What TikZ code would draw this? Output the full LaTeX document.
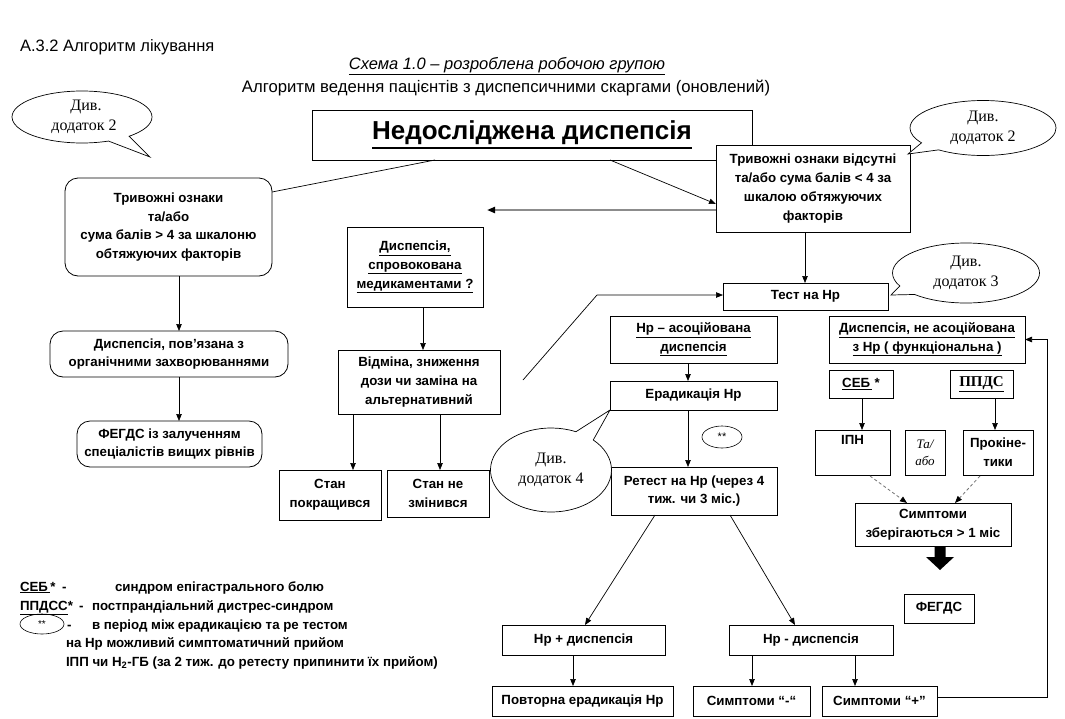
\documentclass[tikz,border=0pt]{standalone}
\usepackage{fontspec}
\setmainfont{Liberation Sans}
\newfontfamily\tnr{Liberation Serif}
\usetikzlibrary{arrows.meta,shapes.geometric,shapes.callouts,calc}
\newcommand{\ulx}[1]{\vtop{\hbox{#1}\kern1.3pt\hrule height 0.9pt}}
\newcommand{\ulxx}[1]{\vtop{\hbox{#1}\kern2.2pt\hrule height 1.9pt}}
\newcommand{\mkbox}[7]{\node[#6, minimum width={#4-#2}, minimum height={#5-#3}] (#1) at ({(#2+#4)/2},{(#3+#5)/2}) {#7};}
\begin{document}
\begin{tikzpicture}[x=1pt,y=-1pt,
  every node/.style={inner sep=0pt, outer sep=0pt},
  bx/.style={draw, line width=0.8pt, fill=white, align=center, font=\bfseries\fontsize{13.3}{18.8}\selectfont},
  rbx/.style={bx, rounded corners=13pt},
  cl/.style={ellipse callout, draw, line width=0.7pt, fill=white, align=center, callout pointer arc=20, font=\tnr\fontsize{16}{20.5}\selectfont},
  arr/.style={-{Triangle[length=7pt,width=5.5pt]}, line width=0.7pt},
  ln/.style={line width=0.7pt},
  gryarr/.style={-{Triangle[length=8pt,width=6pt,color=black]}, line width=2pt, color=black!45},
  dsh/.style={-{Triangle[length=7pt,width=5.5pt,color=black]}, line width=0.8pt, dashed, dash pattern=on 3pt off 2.5pt, color=black!55},
  lg/.style={anchor=base west, font=\bfseries\fontsize{13.3}{15}\selectfont},
]
\fill[white] (0,0) rectangle (1065,718);
\useasboundingbox (0,0) rectangle (1065,718);

% header texts
\node[anchor=base west, font=\fontsize{16.5}{18}\selectfont] (hdr) at (20,51) {А.3.2 Алгоритм лікування};
\node[anchor=base, font=\itshape\fontsize{16.5}{18}\selectfont] (sch) at (507,69) {\ulx{Схема 1.0 – розроблена робочою групою}};
\node[anchor=base, font=\fontsize{16.7}{18}\selectfont] (alg) at (506,92) {Алгоритм ведення пацієнтів з диспепсичними скаргами (оновлений)};

% guides
\coordinate (x179) at (179,0);
\coordinate (x423) at (423,0);
\coordinate (x353) at (353,0);
\coordinate (x440) at (440,0);
\coordinate (x805) at (805,0);
\coordinate (x688) at (688,0);
\coordinate (x573) at (573,0);
\coordinate (x752) at (752,0);
\coordinate (x855) at (855,0);
\coordinate (x862) at (862,0);
\coordinate (x995) at (995,0);
\coordinate (x1047) at (1047,0);

% boxes
\mkbox{main}{312}{110}{752}{160}{bx}{\fontsize{26}{30}\selectfont\ulxx{Недосліджена диспепсія}}
\mkbox{alarmR}{716}{145}{910}{232}{bx}{Тривожні ознаки відсутні\\та/або сума балів < 4 за\\шкалою обтяжуючих\\факторів}
\mkbox{alarmL}{65}{178}{272}{276}{rbx}{Тривожні ознаки\\та/або\\сума балів > 4 за шкалоню\\обтяжуючих факторів}
\mkbox{org}{50}{331}{288}{377}{rbx}{Диспепсія, пов’язана з\\органічними захворюваннями}
\mkbox{fegA}{77}{421}{262}{467}{rbx}{ФЕГДС із залученням\\спеціалістів вищих рівнів}
\mkbox{drug}{347}{227}{483}{307}{bx}{\ulx{Диспепсія,}\\\ulx{спровокована}\\\ulx{медикаментами ?}}
\mkbox{change}{338}{350}{500}{414}{bx}{Відміна, зниження\\дози чи заміна на\\альтернативний}
\mkbox{better}{279}{470}{381}{520}{bx}{Стан\\покращився}
\mkbox{same}{387}{470}{489}{517}{bx}{Стан не\\змінився}
\mkbox{test}{723}{283}{888}{310}{bx}{Тест на Hp}
\mkbox{hpAss}{610}{316}{777}{363}{bx}{\ulx{Hp – асоційована}\\\ulx{диспепсія}}
\mkbox{erad}{610}{381}{777}{410}{bx}{Ерадикація Hp}
\mkbox{retest}{611}{467}{777}{515}{bx}{Ретест на Hp (через 4\\тиж. чи 3 міс.)}
\mkbox{hpPlus}{502}{625}{665}{655}{bx}{Hp + диспепсія}
\mkbox{hpMinus}{729}{625}{893}{655}{bx}{Hp - диспепсія}
\mkbox{repErad}{492}{686}{673}{716}{bx}{Повторна ерадикація Hp}
\mkbox{sMinus}{693}{686}{810}{716}{bx}{Симптоми “-“}
\mkbox{sPlus}{822}{686}{937}{716}{bx}{Симптоми “+”}
\mkbox{nonAss}{829}{316}{1025}{363}{bx}{\ulx{Диспепсія, не асоційована}\\\ulx{з Hp ( функціональна )}}
\mkbox{seb}{829}{370}{893}{398}{bx}{\ulx{СЕБ\,}\,*}
\mkbox{ppds}{950}{370}{1013}{398}{bx, font=\tnr\bfseries\fontsize{15}{16}\selectfont}{\ulx{ППДС}}
\mkbox{ipn}{815}{430}{890}{475}{bx}{ІПН\\\strut}
\mkbox{taabo}{905}{430}{945}{475}{bx, font=\tnr\itshape\fontsize{13}{17}\selectfont}{Та/\\або}
\mkbox{prok}{963}{430}{1033}{475}{bx}{Прокіне-\\тики}
\mkbox{symp}{855}{503}{1011}{546}{bx}{Симптоми\\зберігаються > 1 міс}
\mkbox{fegB}{904}{594}{974}{623}{bx}{ФЕГДС}

% callouts
\node[cl, minimum width=140, minimum height=52, callout absolute pointer={(150,157)}] (cA) at (82,117) {\raisebox{-3pt}{\hspace{8pt}Див.}\\\raisebox{-3pt}{\hspace{4pt}додаток 2}};
\node[cl, minimum width=146, minimum height=55, callout absolute pointer={(908,154)}] (cB) at (983,128) {Див.\\додаток 2};
\node[cl, minimum width=147, minimum height=60, callout absolute pointer={(891,295)}] (cC) at (966,273) {Див.\\додаток 3};
\node[cl, minimum width=121, minimum height=84, callout absolute pointer={(erad.south west)}] (cD) at (551,470) {Див.\\додаток 4};
\node[draw, ellipse, line width=0.6pt, minimum width=40, minimum height=22, font=\fontsize{11}{11}\selectfont] (ast) at (722,437) {\raisebox{-2.5pt}{**}};

% connectors
\draw[ln] ($(main.south west)+(123,0)$) -- ($(alarmL.north east)+(0,14)$);
\draw[arr] ($(main.south west)+(298,0)$) -- ($(alarmR.north west)+(0,59)$);
\coordinate (gEnd) at (487,210);
\draw[gryarr] ($(alarmR.north west)+(0,65)$) -- (gEnd);
\draw[arr] (alarmL.south -| x179) -- (org.north -| x179);
\draw[arr] (org.south -| x179) -- (fegA.north -| x179);
\draw[arr] (drug.south -| x423) -- (change.north -| x423);
\draw[arr] (change.south -| x353) -- (better.north -| x353);
\draw[arr] (change.south -| x440) -- (same.north -| x440);
\draw[arr] (alarmR.south -| x805) -- (test.north -| x805);
\coordinate (lStart) at (523,380);
\coordinate (lBend) at (597,295);
\draw[arr] (lStart) -- (lBend) -- (test.west |- lBend);
\draw[arr] (hpAss.south -| x688) -- (erad.north -| x688);
\draw[arr] (erad.south -| x688) -- (retest.north -| x688);
\draw[arr] ($(retest.south west)+(44,0)$) -- ($(hpPlus.north west)+(83,0)$);
\draw[arr] ($(retest.south west)+(119,0)$) -- ($(hpMinus.north west)+(66,0)$);
\draw[arr] (hpPlus.south -| x573) -- (repErad.north -| x573);
\draw[arr] (hpMinus.south -| x752) -- (sMinus.north -| x752);
\draw[arr] (hpMinus.south -| x855) -- (sPlus.north -| x855);
\draw[arr] ($(sPlus.north east)+(0,11)$) -- ($(sPlus.north east -| x1047)+(0,11)$) -- (nonAss.east -| x1047) -- (nonAss.east);
\draw[arr] (seb.south -| x862) -- (ipn.north -| x862);
\draw[arr] (ppds.south -| x995) -- (prok.north -| x995);
\draw[dsh] ($(ipn.south west)+(55,1)$) -- ($(symp.north west)+(52,0)$);
\draw[dsh] ($(prok.south west)+(17,1)$) -- ($(symp.north west)+(100,0)$);
% thick arrow
\fill ($(symp.south)+(1.5,1)$) -- ++(11,0) -- ++(0,10) -- ++(8.5,0) -- ++(-14,13) -- ++(-14,-13) -- ++(8.5,0) -- cycle;

% legend
\node[lg] (l1a) at (20,591) {\ulx{СЕБ\,}*};
\node[lg] (l1b) at (62,591) {-};
\node[lg] (l1c) at (115,591) {синдром епігастрального болю};
\node[lg] (l2a) at (20,610) {\ulx{ППДСС}*};
\node[lg] (l2b) at (79,610) {-};
\node[lg] (l2c) at (92,610) {постпрандіальний дистрес-синдром};
\node[draw, ellipse, line width=0.6pt, minimum width=44, minimum height=20, font=\fontsize{10}{10}\selectfont] (l3e) at (42,624) {\raisebox{-2.5pt}{**}};
\node[lg] (l3b) at (67,629) {-};
\node[lg] (l3c) at (92,629) {в період між ерадикацією та ре тестом};
\node[lg] (l4) at (66,647) {на Hp можливий симптоматичний прийом};
\node[lg] (l5) at (66,666) {ІПП чи H\textsubscript{2}-ГБ (за 2 тиж. до ретесту припинити їх прийом)};
\end{tikzpicture}
\end{document}
